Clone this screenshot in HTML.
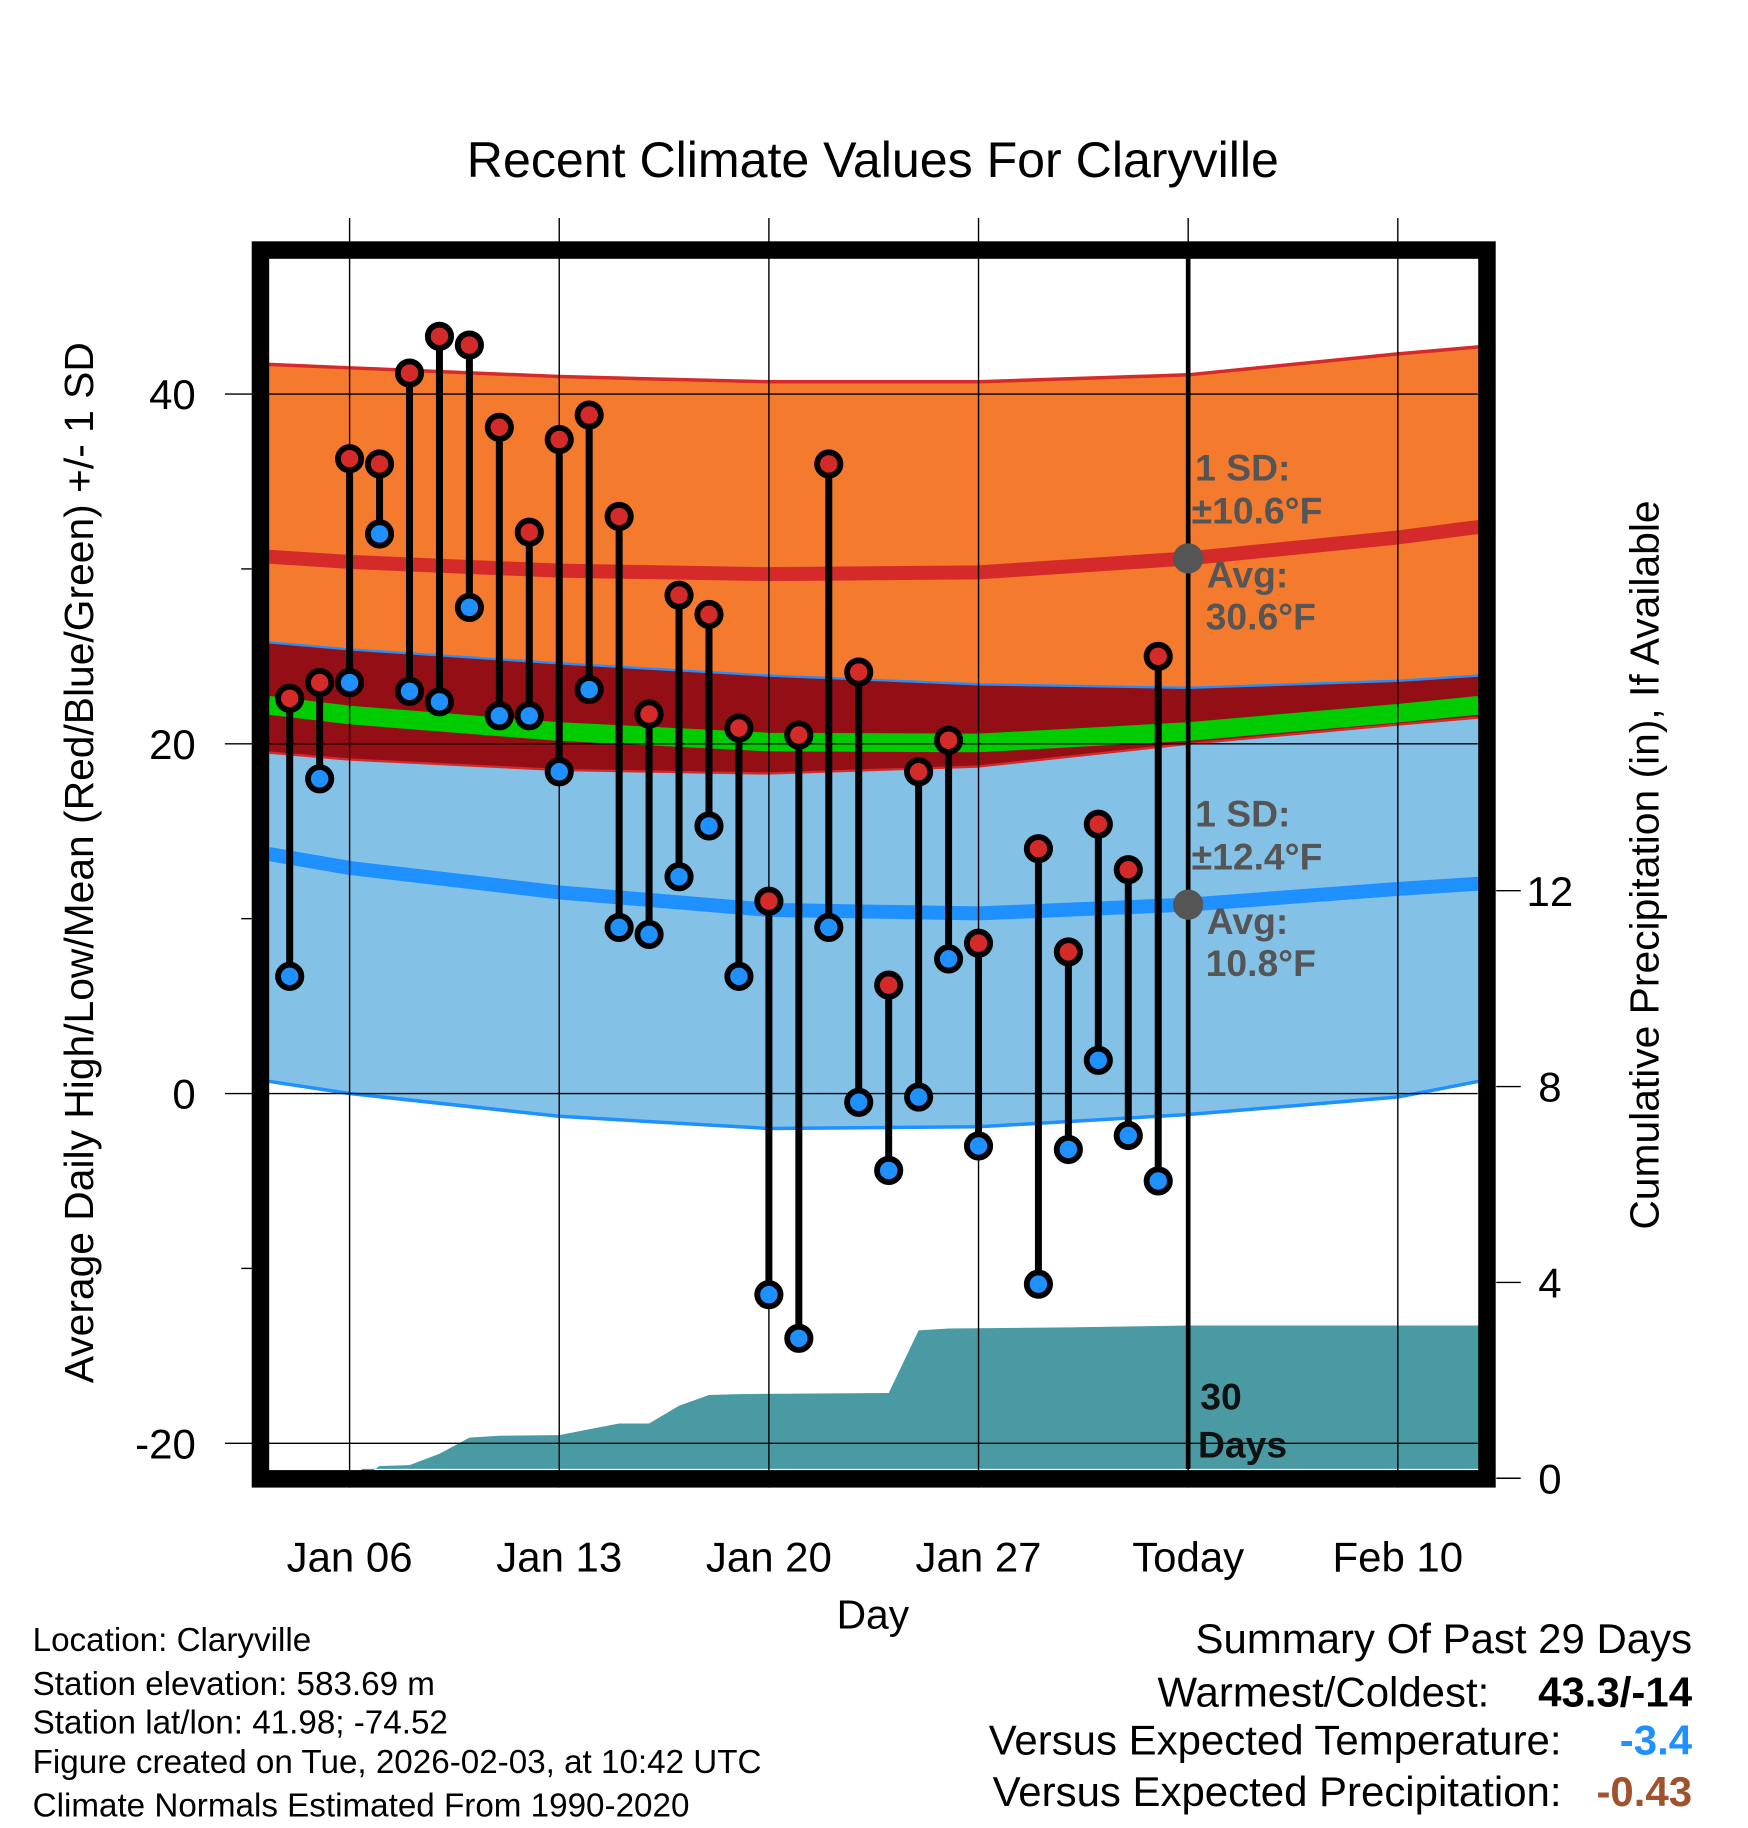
<!DOCTYPE html>
<html><head><meta charset="utf-8"><style>
html,body{margin:0;padding:0;background:#fff}
svg{display:block;font-family:"Liberation Sans",Arial,sans-serif}
</style></head><body>
<svg id="chart" width="1748" height="1828" viewBox="0 0 1500 1568" preserveAspectRatio="none" xmlns="http://www.w3.org/2000/svg">
<rect width="1500" height="1568" fill="#fff"/>
<text x="749" y="152" font-size="43" text-anchor="middle">Recent Climate Values For Claryville</text>
<g id="plot"></g>
<text transform="translate(80,740) rotate(-90)" font-size="35" text-anchor="middle">Average Daily High/Low/Mean (Red/Blue/Green) +/- 1 SD</text>
<text transform="translate(1423,742) rotate(-90)" font-size="35" text-anchor="middle">Cumulative Precipitation (in), If Available</text>
<text x="749" y="1397" font-size="35" text-anchor="middle">Day</text>
<g font-size="28.5">
<text x="28" y="1416">Location: Claryville</text>
<text x="28" y="1454">Station elevation: 583.69 m</text>
<text x="28" y="1487">Station lat/lon: 41.98; -74.52</text>
<text x="28" y="1521">Figure created on Tue, 2026-02-03, at 10:42 UTC</text>
<text x="28" y="1558">Climate Normals Estimated From 1990-2020</text>
</g>
<g font-size="36" text-anchor="end">
<text x="1452" y="1418">Summary Of Past 29 Days</text>
<text x="1278" y="1464">Warmest/Coldest:</text>
<text x="1452" y="1464" font-weight="bold">43.3/-14</text>
<text x="1340" y="1505">Versus Expected Temperature:</text>
<text x="1452" y="1505" font-weight="bold" fill="#1e90ff">-3.4</text>
<text x="1340" y="1549">Versus Expected Precipitation:</text>
<text x="1452" y="1549" font-weight="bold" fill="#a0522d">-0.43</text>
</g>
</svg>
<script>
// days are counted from Jan 1 = 1 (Feb 3 = 34)
const days=[4,5,6,7,8,9,10,11,12,13,14,15,16,17,18,19,20,21,22,23,24,25,26,27,29,30,31,32,33];
const highs=[22.6,23.5,36.3,36,41.2,43.3,42.8,38.1,32.1,37.4,38.8,33,21.7,28.5,27.4,20.9,11,20.5,36,24.1,6.2,18.4,20.2,8.6,14,8.1,15.4,12.8,25];
const lows=[6.7,18,23.5,32,23,22.4,27.8,21.6,21.6,18.4,23.1,9.5,9.1,12.4,15.3,6.7,-11.5,-14,9.5,-0.5,-4.4,-0.2,7.7,-3,-10.9,-3.2,1.9,-2.4,-5];
const normDays=[3.3,6,13,20,27,34,41,43.7];
const normHighTop=[41.7,41.5,41.0,40.7,40.7,41.1,42.3,42.7];
const normHigh=[30.7,30.4,29.9,29.7,29.8,30.6,31.8,32.4];
const normHighBot=[19.5,19.1,18.5,18.3,18.7,20.0,21.1,21.5];
const normLowTop=[25.8,25.4,24.6,23.9,23.4,23.2,23.6,23.9];
const normLow=[13.7,12.9,11.5,10.5,10.3,10.8,11.7,12.0];
const normLowBot=[0.7,0,-1.3,-2,-1.9,-1.2,-0.2,0.7];
const precipDays=[6.4,7,8,9,10,11,13,14,15,16,17,18,19,24,25,26,30,34,43.7];
const precipVals=[0,0.25,0.27,0.5,0.83,0.87,0.88,1.0,1.12,1.12,1.48,1.7,1.72,1.74,3.02,3.06,3.08,3.12,3.12];
const xTickDays=[6,13,20,27,34,41];
const xTickLabels=['Jan 06','Jan 13','Jan 20','Jan 27','Today','Feb 10'];
const yTicks=[40,20,0,-20];
const yMinor=[30,10,-10];
const y2Ticks=[0,4,8,12];
const sdHigh='10.6', sdLow='12.4';

const NS='http://www.w3.org/2000/svg';
const X=d=>300+(d-6)*25.7;
const Y=t=>938-15*t;
const YP=p=>1268-42*p;
const L=231,R=1268,T=222,B=1260;
const g=document.getElementById('plot');
function mk(tag,at,parent){const e=document.createElementNS(NS,tag);for(const k in at)e.setAttribute(k,at[k]);(parent||g).appendChild(e);return e;}
function pts(arr){return normDays.map((d,i)=>X(d).toFixed(1)+','+Y(arr[i]).toFixed(1));}
function band(upper,lower,fill,name){
  const p=pts(upper).concat(pts(lower).reverse());
  const e=mk('polygon',{points:p.join(' '),fill:fill});
  
  
}
function line(arr,color,w,name){
  const e=mk('polyline',{points:pts(arr).join(' '),fill:'none',stroke:color,'stroke-width':w,'stroke-linejoin':'round'});
  
  
}
const meanArr=normHigh.map((h,i)=>(h+normLow[i])/2);
band(normHighTop,normLowTop,'#f47a2d','high-sd-band');
band(normLowTop,normHighBot,'#940e15','overlap-band');
band(normHighBot,normLowBot,'#84c1e6','low-sd-band');
line(normHighTop,'#d42a2a',3,'high-sd-upper-line');
line(normLowTop,'#1e90ff',2,'low-sd-upper-line');
line(normHighBot,'#d42a2a',2,'high-sd-lower-line');
line(normLowBot,'#1e90ff',3,'low-sd-lower-line');
line(normHigh,'#d42a2a',12,'normal-high-line');
line(normLow,'#1e90ff',12,'normal-low-line');
line(meanArr,'#00cc00',16,'normal-mean-line');
// precip area
{
  let p=precipDays.map((d,i)=>X(d).toFixed(1)+','+YP(precipVals[i]).toFixed(1));
  p.push(X(precipDays[precipDays.length-1])+','+B, X(precipDays[0])+','+B);
  const e=mk('polygon',{points:p.join(' '),fill:'#4a9aa3'});
  
  
}
// grid
xTickDays.forEach((d,i)=>{
  const e=mk('line',{x1:X(d),x2:X(d),y1:187,y2:1276,stroke:'#000','stroke-width':1.2});
  
  
  const t=mk('text',{x:X(d),y:1348,'font-size':36,'text-anchor':'middle'});
  t.textContent=xTickLabels[i];
  
  
});
yTicks.forEach(v=>{
  const e=mk('line',{x1:193,x2:R,y1:Y(v),y2:Y(v),stroke:'#000','stroke-width':1.2});
  
  
  const t=mk('text',{x:168,y:Y(v)+13,'font-size':36,'text-anchor':'end'});
  t.textContent=String(v);
  
  
});
yMinor.forEach(v=>{
  const e=mk('line',{x1:207,x2:216,y1:Y(v),y2:Y(v),stroke:'#000','stroke-width':1.2});
  
  
});
y2Ticks.forEach(v=>{
  const e=mk('line',{x1:1284,x2:1305,y1:YP(v),y2:YP(v),stroke:'#000','stroke-width':1.2});
  
  
  const t=mk('text',{x:1330,y:YP(v)+13,'font-size':36,'text-anchor':'middle'});
  t.textContent=String(v);
  
  
});
// today line
{const e=mk('line',{x1:X(34),x2:X(34),y1:T,y2:B,stroke:'#000','stroke-width':4});

}
// annotations
function txt(s,x,y,size,name,fill,bold){const t=mk('text',{x:x,y:y,'font-size':size,fill:fill||'#555','font-weight':bold?'bold':'normal'});t.textContent=s;

return t;}
const ax=X(34);
[[normHigh,sdHigh,'high'],[normLow,sdLow,'low']].forEach(([m,sv,n])=>{
  const mv=m[5], yy=Y(mv);
  const c=mk('circle',{cx:ax,cy:yy,r:13,fill:'#555'});
  
  
  txt('1 SD:',ax+6,yy-67,32,n+'-sd-label','#555',true);
  txt('±'+sv+'°F',ax+3,yy-30,32,n+'-sd-value','#555',true);
  txt('Avg:',ax+16,yy+25,32,n+'-avg-label','#555',true);
  txt(mv.toFixed(1)+'°F',ax+15,yy+61,32,n+'-avg-value','#555',true);
});
txt('30',1030,1209,32,'days-count','#111',true);
txt('Days',1028,1250,32,'days-label','#111',true);
// observations
days.forEach((d,i)=>{
  const x=X(d);
  const s=mk('line',{x1:x,x2:x,y1:Y(highs[i]),y2:Y(lows[i]),stroke:'#000','stroke-width':6});
  
  
  const h=mk('circle',{cx:x,cy:Y(highs[i]),r:10,fill:'#d42a2a',stroke:'#000','stroke-width':5});
  
  
  const l=mk('circle',{cx:x,cy:Y(lows[i]),r:10,fill:'#1e90ff',stroke:'#000','stroke-width':5});
  
  
});
// frame
{const f=mk('rect',{x:223.5,y:214.5,width:1052.5,height:1054,fill:'none',stroke:'#000','stroke-width':15});

}
</script>
</body></html>
